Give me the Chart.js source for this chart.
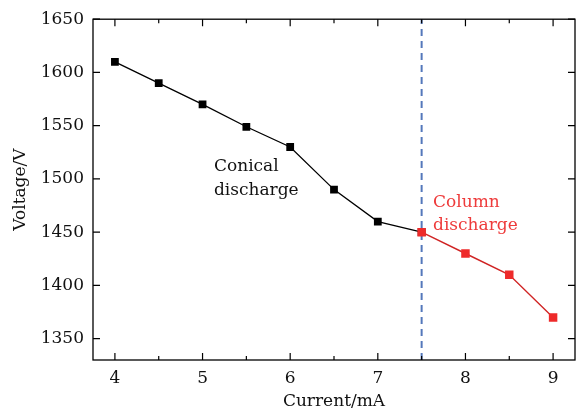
<!DOCTYPE html>
<html>
<head>
<meta charset="utf-8">
<script src="https://cdn.jsdelivr.net/npm/chart.js@4"></script>
<style>
  html, body { margin: 0; padding: 0; background: #fff; }
  #wrap { width: 582px; height: 412px; }
</style>
</head>
<body>
<div id="wrap"><canvas id="voltageChart" width="582" height="412"></canvas></div>
<script>
// data
const conicalCurrent = [4, 4.5, 5, 5.5, 6, 6.5, 7, 7.5];
const conicalVoltage = [1610, 1590, 1570, 1549, 1530, 1490, 1460, 1450];
const columnCurrent = [7.5, 8, 8.5, 9];
const columnVoltage = [1450, 1430, 1410, 1370];
const dividerCurrent = 7.5;
const xTicks = [4, 5, 6, 7, 8, 9];
const xMinorTicks = [4.5, 5.5, 6.5, 7.5, 8.5];
const yTicks = [1350, 1400, 1450, 1500, 1550, 1600, 1650];

const FONT = 'DejaVu Serif';
const FONT_SIZE = 17;

function toPoints(xs, ys) {
    return xs.map((x, i) => ({ x: x, y: ys[i] }));
}

// frame + inward ticks on all four sides, plus the two region labels
const framePlugin = {
    id: 'frame',
    afterDraw(chart) {
        const ctx = chart.ctx;
        const area = chart.chartArea;
        const xs = chart.scales.x;
        const ys = chart.scales.y;
        ctx.save();
        ctx.strokeStyle = '#000';
        ctx.lineWidth = 1.3;
        ctx.strokeRect(area.left, area.top, area.right - area.left, area.bottom - area.top);
        ctx.lineWidth = 1.2;
        ctx.beginPath();
        xTicks.forEach(v => {
            const px = xs.getPixelForValue(v);
            ctx.moveTo(px, area.bottom); ctx.lineTo(px, area.bottom - 7);
            ctx.moveTo(px, area.top); ctx.lineTo(px, area.top + 7);
        });
        xMinorTicks.forEach(v => {
            const px = xs.getPixelForValue(v);
            ctx.moveTo(px, area.bottom); ctx.lineTo(px, area.bottom - 4);
            ctx.moveTo(px, area.top); ctx.lineTo(px, area.top + 4);
        });
        yTicks.forEach(v => {
            const py = ys.getPixelForValue(v);
            ctx.moveTo(area.left, py); ctx.lineTo(area.left + 7, py);
            ctx.moveTo(area.right, py); ctx.lineTo(area.right - 7, py);
        });
        ctx.stroke();

        ctx.font = FONT_SIZE + 'px "' + FONT + '"';
        ctx.textAlign = 'left';
        ctx.textBaseline = 'alphabetic';
        ctx.fillStyle = '#111';
        ctx.fillText('Conical', xs.getPixelForValue(5.13), ys.getPixelForValue(1507));
        ctx.fillText('discharge', xs.getPixelForValue(5.13), ys.getPixelForValue(1485));
        ctx.fillStyle = '#ee3b3b';
        ctx.fillText('Column', xs.getPixelForValue(7.63), ys.getPixelForValue(1474));
        ctx.fillText('discharge', xs.getPixelForValue(7.63), ys.getPixelForValue(1452));
        ctx.restore();
    }
};

const ctx = document.getElementById('voltageChart');
new Chart(ctx, {
    type: 'line',
    data: {
        datasets: [
            {
                label: 'Column discharge',
                data: toPoints(columnCurrent, columnVoltage),
                borderColor: '#d02525',
                backgroundColor: '#ee2a2a',
                borderWidth: 1.4,
                pointStyle: 'rect',
                pointRadius: 6,
                pointBorderWidth: 0,
                tension: 0
            },
            {
                label: 'Conical discharge',
                data: toPoints(conicalCurrent, conicalVoltage),
                borderColor: '#000',
                backgroundColor: '#000',
                borderWidth: 1.3,
                pointStyle: 'rect',
                pointRadius: 5.5,
                pointBorderWidth: 0,
                tension: 0
            },
            {
                label: 'divider',
                data: [{ x: dividerCurrent, y: 1330 }, { x: dividerCurrent, y: 1650 }],
                borderColor: '#5478bb',
                borderWidth: 2,
                borderDash: [7, 5],
                pointRadius: 0
            }
        ]
    },
    options: {
        responsive: false,
        animation: false,
        layout: { padding: { left: 0, right: 7, top: 16, bottom: 0 } },
        plugins: {
            legend: { display: false },
            tooltip: { enabled: false }
        },
        scales: {
            x: {
                type: 'linear',
                min: 3.75,
                max: 9.25,
                afterBuildTicks: scale => { scale.ticks = xTicks.map(v => ({ value: v })); },
                afterFit: scale => { scale.height = 52; },
                grid: { display: false, drawTicks: false },
                border: { display: false },
                ticks: {
                    color: '#111',
                    padding: 8,
                    maxRotation: 0,
                    callback: v => String(v),
                    font: { family: FONT, size: FONT_SIZE }
                },
                title: {
                    display: true,
                    text: 'Current/mA',
                    color: '#111',
                    padding: { top: 0, bottom: 0 },
                    font: { family: FONT, size: FONT_SIZE }
                }
            },
            y: {
                type: 'linear',
                min: 1330,
                max: 1650,
                afterBuildTicks: scale => { scale.ticks = yTicks.map(v => ({ value: v })); },
                afterFit: scale => { scale.width = 93; },
                grid: { display: false, drawTicks: false },
                border: { display: false },
                ticks: {
                    color: '#111',
                    padding: 9,
                    callback: v => String(v),
                    font: { family: FONT, size: FONT_SIZE }
                },
                title: {
                    display: true,
                    text: 'Voltage/V',
                    color: '#111',
                    padding: { top: 10, bottom: 0 },
                    font: { family: FONT, size: FONT_SIZE }
                }
            }
        }
    },
    plugins: [framePlugin]
});
</script>
</body>
</html>
